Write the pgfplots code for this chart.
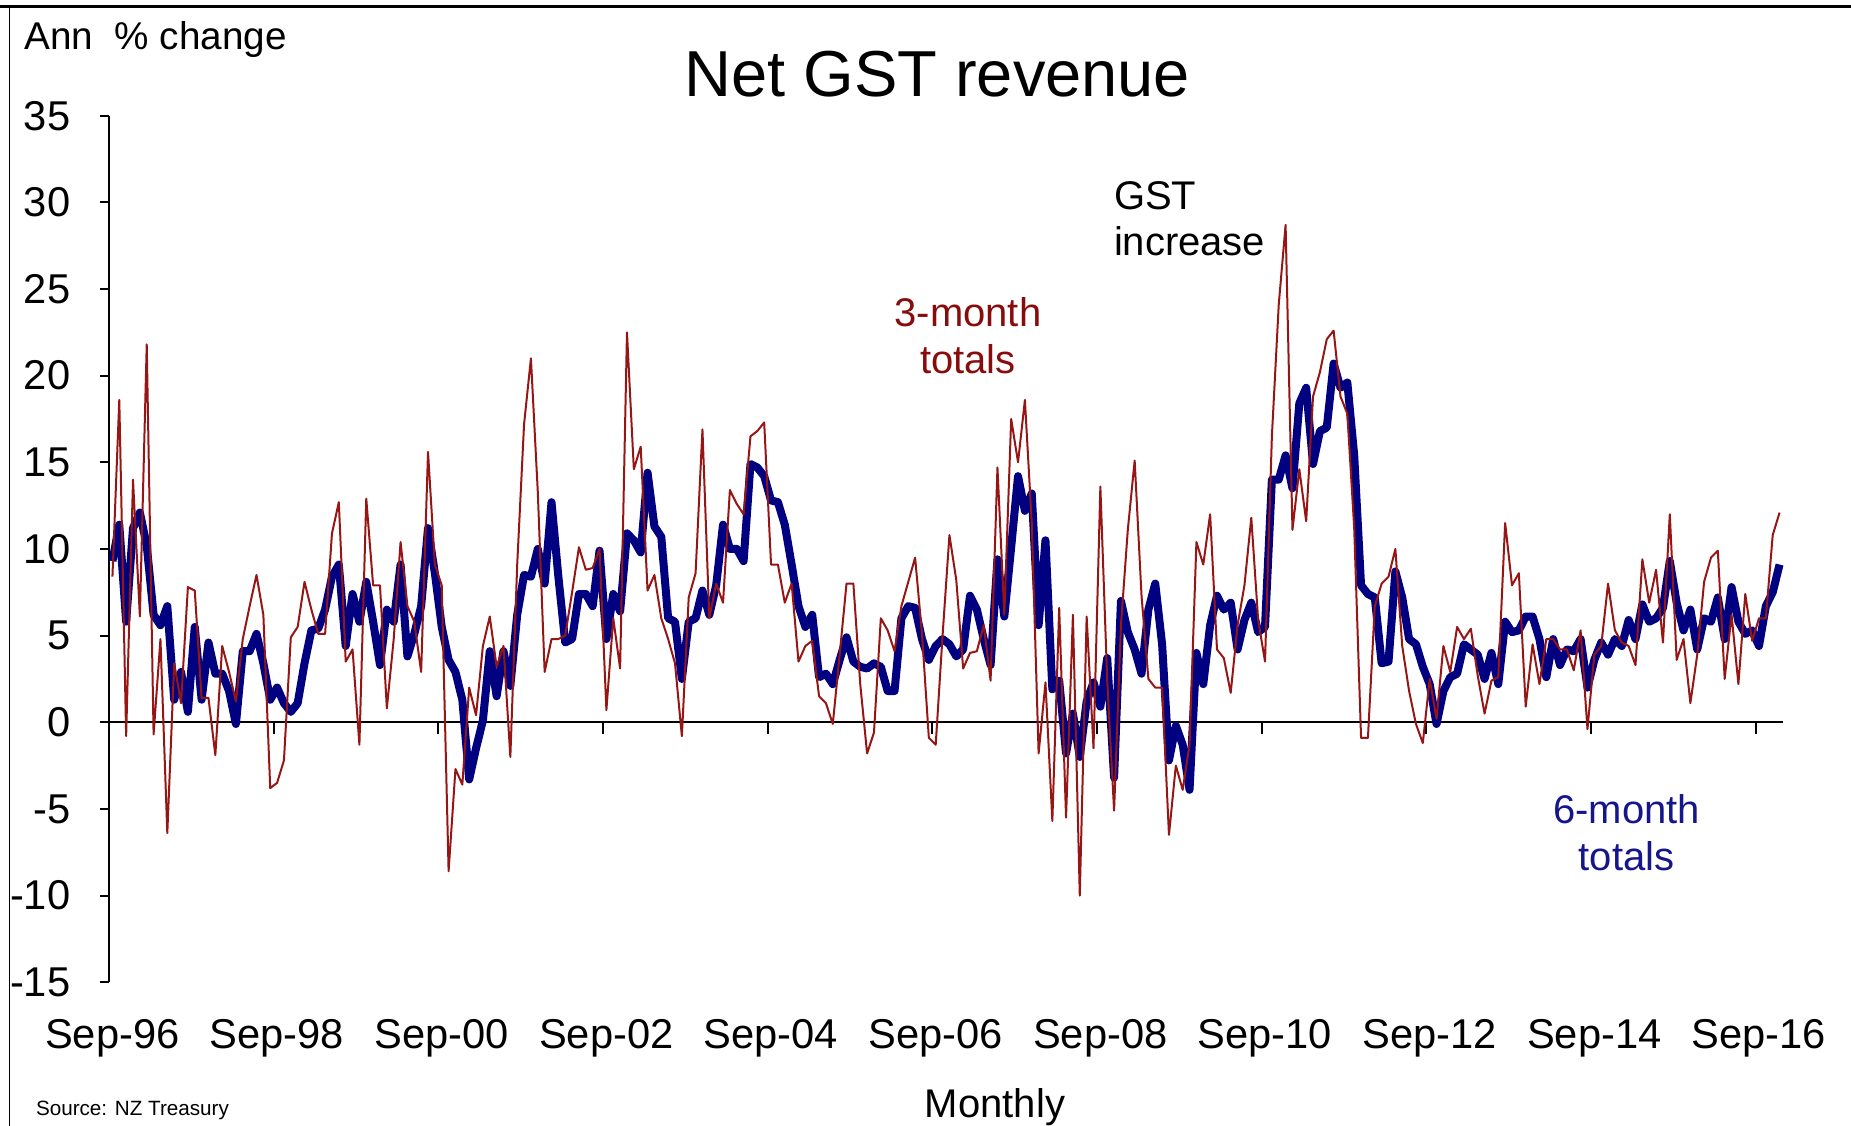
\documentclass[border=0pt]{standalone}
\usepackage{pgfplots}
\pgfplotsset{compat=1.18}
\usepackage{pgfplotstable}
\usepackage{fontspec}
\setmainfont{Liberation Sans}
\definecolor{redline}{RGB}{150,22,22}
\definecolor{redtext}{RGB}{135,12,12}
\definecolor{blueline}{RGB}{0,0,128}
\definecolor{bluetext}{RGB}{22,22,140}

\pgfplotstableread{
x m3 m6
0.5 8.4 9.3
1.5 18.6 11.4
2.5 -0.8 5.8
3.5 14.0 11.2
4.5 6.1 12.1
5.5 21.8 10.2
6.5 -0.7 6.2
7.5 4.8 5.6
8.5 -6.4 6.7
9.5 3.4 1.3
10.5 1.1 2.9
11.5 7.8 0.6
12.5 7.6 5.5
13.5 1.4 1.3
14.5 1.4 4.6
15.5 -1.9 2.8
16.5 4.4 2.8
17.5 2.9 1.8
18.5 1.2 -0.1
19.5 4.8 4.1
20.5 6.7 4.1
21.5 8.5 5.1
22.5 6.2 3.4
23.5 -3.8 1.3
24.5 -3.5 2.0
25.5 -2.2 1.1
26.5 4.9 0.6
27.5 5.5 1.1
28.5 8.1 3.4
29.5 6.5 5.3
30.5 5.1 5.4
31.5 5.1 6.5
32.5 10.9 8.4
33.5 12.7 9.1
34.5 3.5 4.4
35.5 4.2 7.4
36.5 -1.3 5.8
37.5 12.9 8.1
38.5 7.9 5.8
39.5 7.9 3.3
40.5 0.8 6.5
41.5 4.8 5.8
42.5 10.4 9.1
43.5 6.7 3.8
44.5 5.8 5.1
45.5 2.9 6.7
46.5 15.6 11.2
47.5 9.1 8.6
48.5 7.9 5.5
49.5 -8.6 3.6
50.5 -2.7 2.9
51.5 -3.6 1.3
52.5 2.0 -3.3
53.5 0.4 -1.5
54.5 4.4 0.1
55.5 6.1 4.1
56.5 3.2 1.5
57.5 4.4 4.1
58.5 -2.0 2.1
59.5 9.1 6.2
60.5 17.2 8.5
61.5 21.0 8.4
62.5 13.3 10.0
63.5 2.9 8.0
64.5 4.8 12.7
65.5 4.8 8.4
66.5 5.0 4.6
67.5 7.5 4.8
68.5 10.1 7.4
69.5 8.8 7.4
70.5 8.9 6.7
71.5 10.0 9.9
72.5 0.7 4.8
73.5 6.0 7.4
74.5 3.1 6.4
75.5 22.5 10.9
76.5 14.6 10.5
77.5 15.9 9.8
78.5 7.6 14.4
79.5 8.5 11.3
80.5 6.0 10.7
81.5 4.8 6.0
82.5 3.4 5.8
83.5 -0.8 2.5
84.5 7.2 5.8
85.5 8.6 6.0
86.5 16.9 7.6
87.5 6.0 6.2
88.5 8.0 7.9
89.5 6.9 11.4
90.5 13.4 10.0
91.5 12.6 10.0
92.5 12.0 9.3
93.5 16.5 14.9
94.5 16.8 14.7
95.5 17.3 14.2
96.5 9.1 12.8
97.5 9.1 12.7
98.5 6.9 11.4
99.5 8.0 9.1
100.5 3.5 6.7
101.5 4.4 5.5
102.5 4.7 6.2
103.5 1.5 2.6
104.5 1.1 2.8
105.5 -0.1 2.2
106.5 3.9 3.6
107.5 8.0 4.9
108.5 8.0 3.5
109.5 2.2 3.2
110.5 -1.8 3.1
111.5 -0.6 3.4
112.5 6.0 3.2
113.5 5.3 1.8
114.5 4.1 1.8
115.5 6.7 6.0
116.5 8.1 6.7
117.5 9.5 6.6
118.5 5.1 4.8
119.5 -0.9 3.6
120.5 -1.3 4.4
121.5 5.0 4.8
122.5 10.8 4.5
123.5 8.2 3.8
124.5 3.1 4.2
125.5 4.0 7.3
126.5 4.1 6.5
127.5 5.6 4.8
128.5 2.4 3.3
129.5 14.7 9.4
130.5 6.2 6.1
131.5 17.5 10.1
132.5 15.0 14.2
133.5 18.6 12.2
134.5 11.5 13.2
135.5 -1.8 5.6
136.5 2.3 10.5
137.5 -5.7 1.9
138.5 6.6 2.4
139.5 -5.5 -1.8
140.5 6.2 0.5
141.5 -10.0 -2.0
142.5 6.1 1.2
143.5 -1.5 2.3
144.5 13.6 0.9
145.5 2.4 3.7
146.5 -5.1 -3.2
147.5 5.6 7.0
148.5 11.1 5.2
149.5 15.1 4.2
150.5 7.3 2.8
151.5 2.5 6.5
152.5 2.0 8.0
153.5 2.0 4.5
154.5 -6.5 -2.2
155.5 -2.5 -0.2
156.5 -3.9 -1.3
157.5 -1.3 -3.9
158.5 10.4 4.0
159.5 9.1 2.2
160.5 12.0 5.6
161.5 4.2 7.3
162.5 3.7 6.5
163.5 1.7 6.9
164.5 5.6 4.2
165.5 7.9 5.9
166.5 11.8 6.9
167.5 5.9 5.2
168.5 3.5 5.5
169.5 16.5 14.0
170.5 24.1 14.0
171.5 28.7 15.4
172.5 11.1 13.5
173.5 14.6 18.4
174.5 11.6 19.3
175.5 18.8 14.9
176.5 20.2 16.8
177.5 22.1 17.0
178.5 22.6 20.7
179.5 18.8 19.3
180.5 17.8 19.6
181.5 11.2 15.4
182.5 -0.9 7.9
183.5 -0.9 7.4
184.5 6.7 7.2
185.5 8.0 3.4
186.5 8.4 3.5
187.5 10.0 8.7
188.5 4.4 7.2
189.5 1.8 4.8
190.5 -0.1 4.5
191.5 -1.2 3.2
192.5 2.5 2.2
193.5 0.2 -0.1
194.5 4.4 1.8
195.5 2.9 2.6
196.5 5.5 2.8
197.5 4.8 4.5
198.5 5.4 4.2
199.5 2.7 3.9
200.5 0.5 2.5
201.5 2.4 4.0
202.5 2.6 2.2
203.5 11.5 5.8
204.5 7.9 5.2
205.5 8.6 5.3
206.5 0.9 6.1
207.5 4.5 6.1
208.5 2.2 4.8
209.5 4.8 2.6
210.5 4.8 4.8
211.5 4.2 3.3
212.5 4.2 4.2
213.5 3.0 4.1
214.5 5.3 4.8
215.5 -0.4 2.0
216.5 3.9 3.6
217.5 4.4 4.6
218.5 8.0 3.9
219.5 5.3 4.8
220.5 4.6 4.4
221.5 4.4 5.9
222.5 3.3 4.8
223.5 9.4 6.8
224.5 6.9 5.8
225.5 8.8 6.0
226.5 4.6 6.6
227.5 12.0 9.3
228.5 3.6 6.9
229.5 4.8 5.3
230.5 1.1 6.5
231.5 3.9 4.2
232.5 8.1 6.0
233.5 9.5 5.8
234.5 9.9 7.2
235.5 2.5 4.8
236.5 6.2 7.8
237.5 2.2 5.8
238.5 7.4 5.1
239.5 4.7 5.3
240.5 6.0 4.4
241.5 6.0 6.7
242.5 10.8 7.5
243.5 12.1 9.1
}\gst

\begin{document}
\begin{tikzpicture}
\useasboundingbox (0,0) rectangle (555.3pt,337.8pt);
% outer frame (top and left edges)
\draw[line width=0.9pt] (0,335.8pt) -- (555.3pt,335.8pt);
\draw[line width=0.5pt] (2.8pt,0) -- (2.8pt,335.8pt);

\begin{axis}[
  at={(32.7pt,43.14pt)}, anchor=south west,
  scale only axis, width=502.2pt, height=259.95pt,
  xmin=0, xmax=244, ymin=-15, ymax=35,
  axis y line*=left, axis x line*=bottom,
  x axis line style={draw=none},
  y axis line style={line width=0.6pt, black},
  xtick={0,24,...,240},
  xticklabels={Sep-96,Sep-98,Sep-00,Sep-02,Sep-04,Sep-06,Sep-08,Sep-10,Sep-12,Sep-14,Sep-16},
  xtick style={draw=none},
  xticklabel style={anchor=base, inner sep=0pt, yshift=-17.2pt, xshift=1pt, font=\fontsize{12.5}{15}\selectfont},
  ytick={-15,-10,...,35},
  tick align=outside,
  major tick length=2.7pt,
  ytick style={line width=0.6pt, black},
  yticklabel style={anchor=east, inner sep=0pt, xshift=-8.7pt, font=\fontsize{12.5}{15}\selectfont},
  /pgf/number format/assume math mode=true,
  clip=false,
]
\draw[line width=0.6pt, black] (axis cs:0,0) -- (axis cs:244,0);
\foreach \t in {0,24,...,240} {
  \edef\temp{\noexpand\draw[line width=0.6pt, black] (axis cs:\t,0) -- ([yshift=-3.6pt]axis cs:\t,0);}
  \temp
}
\addplot[blueline, line width=2.4pt, line join=round] table[x=x, y=m6] {\gst};
\addplot[redline, line width=0.6pt, line join=round] table[x=x, y=m3] {\gst};
\end{axis}

% texts
\node[anchor=base west, inner sep=0pt, font=\fontsize{11.6}{14}\selectfont] at (7.1pt,322.9pt) {Ann\ \ \% change};
\node[anchor=base, inner sep=0pt, font=\fontsize{19.5}{23}\selectfont] at (281.2pt,308.8pt) {Net GST revenue};
\node[anchor=base, inner sep=0pt, font=\fontsize{12}{14}\selectfont] at (298.5pt,2.6pt) {Monthly};
\node[anchor=base west, inner sep=0pt, font=\fontsize{6.2}{7}\selectfont] at (10.6pt,3.1pt) {Source: NZ Treasury};
\node[anchor=base, inner sep=0pt, text=redtext, font=\fontsize{12}{14}\selectfont] at (290.4pt,239.7pt) {3-month};
\node[anchor=base, inner sep=0pt, text=redtext, font=\fontsize{12}{14}\selectfont] at (290.4pt,225.6pt) {totals};
\node[anchor=base west, inner sep=0pt, font=\fontsize{12}{14}\selectfont] at (334pt,275pt) {GST};
\node[anchor=base west, inner sep=0pt, font=\fontsize{12}{14}\selectfont] at (334pt,261pt) {increase};
\node[anchor=base, inner sep=0pt, text=bluetext, font=\fontsize{12}{14}\selectfont] at (488pt,90.6pt) {6-month};
\node[anchor=base, inner sep=0pt, text=bluetext, font=\fontsize{12}{14}\selectfont] at (488pt,76.5pt) {totals};
\end{tikzpicture}
\end{document}
